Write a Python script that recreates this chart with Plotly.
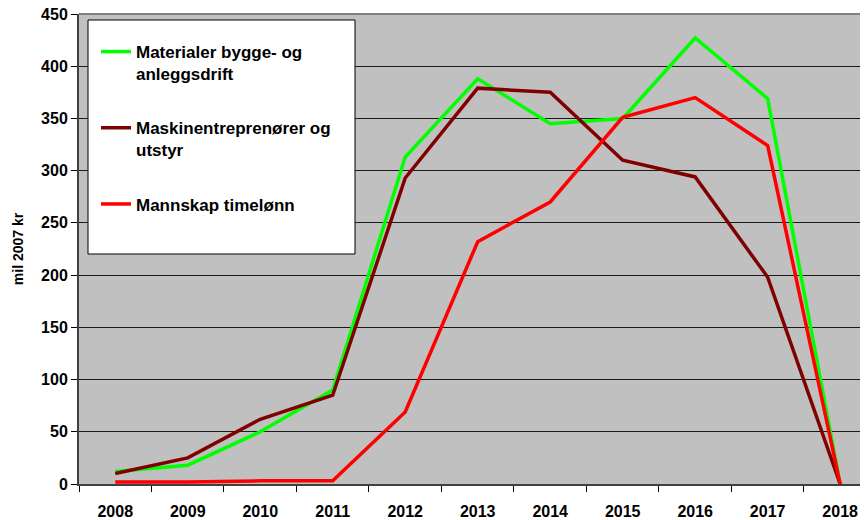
import plotly.graph_objects as go

years = ["2008", "2009", "2010", "2011", "2012", "2013", "2014", "2015", "2016", "2017", "2018"]
materialer = [12, 18, 50, 90, 313, 388, 345, 350, 427, 369, 0]
maskin = [10, 25, 62, 85, 293, 379, 375, 310, 294, 198, 0]
mannskap = [2, 2, 3, 3, 69, 232, 270, 351, 370, 324, 0]

names = ["Materialer bygge- og<br>anleggsdrift", "Maskinentreprenører og<br>utstyr", "Mannskap timelønn"]
colors = ["#00FF00", "#800000", "#FF0000"]
series = [materialer, maskin, mannskap]

xpos = list(range(len(years)))
FONT = "Arial, Liberation Sans, sans-serif"
PW, PH = 789, 470  # plot area size in px

fig = go.Figure()
for i, (nm, col, vals) in enumerate(zip(names, colors, series)):
    fig.add_trace(go.Scatter(x=xpos, y=vals, mode="lines", name=nm,
                             line=dict(color=col, width=3.5),
                             legendgroup=str(i)))

fig.update_layout(
    width=860, height=512,
    margin=dict(l=71, r=0, t=6, b=36, autoexpand=False),
    paper_bgcolor="white", plot_bgcolor="#C0C0C0",
    font=dict(family=FONT, color="black"),
    showlegend=True,
    legend=dict(x=17/PW, y=1 - 20/PH, xanchor="left", yanchor="top",
                bgcolor="rgba(0,0,0,0)", borderwidth=0,
                font=dict(size=17, family=FONT, color="black", weight="bold"),
                valign="top", tracegroupgap=29, itemwidth=30),
    xaxis=dict(range=[-0.5, 10.384], tickmode="array", tickvals=xpos, ticktext=years,
               automargin=False, ticklabeloverflow="allow",
               showgrid=False, zeroline=False, showline=True, linecolor="#404040", linewidth=2,
               ticks="outside", ticklen=12, tickcolor="rgba(0,0,0,0)",
               tickfont=dict(size=16, family=FONT, weight="bold"),
               minor=dict(tickvals=[x - 0.5 for x in xpos] + [10.5], ticks="outside",
                          ticklen=6, tickcolor="black", tickwidth=1, showgrid=False)),
    yaxis=dict(range=[0, 450], tickvals=list(range(0, 451, 50)), automargin=False,
               ticklabeloverflow="allow",
               showgrid=True, gridcolor="#1a1a1a", gridwidth=1, zeroline=False,
               showline=True, linecolor="#404040", linewidth=2,
               ticks="outside", ticklen=6, tickcolor="black",
               tickfont=dict(size=16, family=FONT, weight="bold"),
               title=dict(text="mil 2007 kr", font=dict(size=14, family=FONT, weight="bold"),
                          standoff=14)),
    shapes=[
        dict(type="rect", xref="paper", yref="paper",
             x0=9/PW, x1=276/PW, y0=1 - 240/PH, y1=1 - 6/PH,
             fillcolor="white", line=dict(color="black", width=1), layer="above"),
        dict(type="line", xref="paper", yref="paper", x0=0, x1=1, y0=1, y1=1,
             line=dict(color="#808080", width=2)),
    ],
)

fig.write_html("out.html")
